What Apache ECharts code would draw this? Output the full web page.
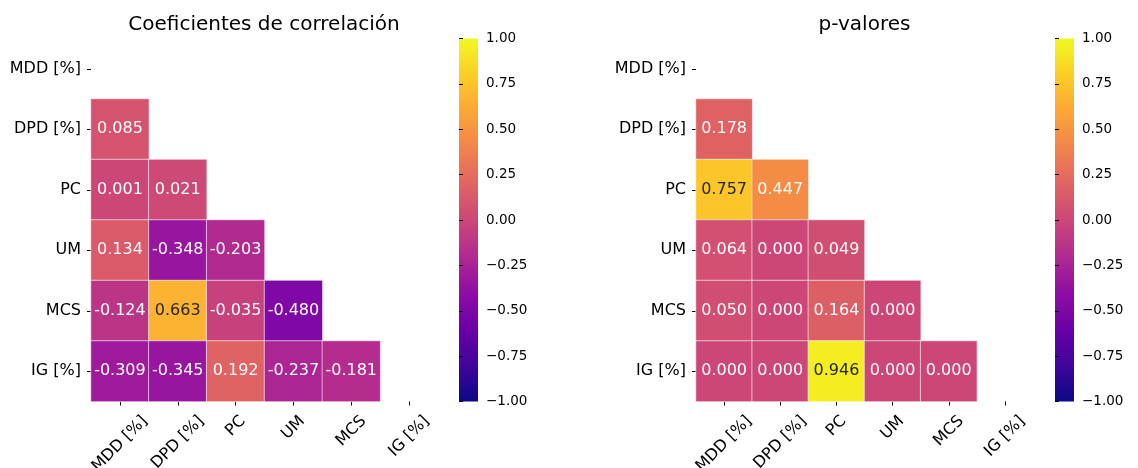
<!DOCTYPE html>
<html>
<head>
<meta charset="utf-8">
<script src="https://cdn.jsdelivr.net/npm/echarts@6/dist/echarts.min.js"></script>
<style>
  html, body { margin: 0; padding: 0; background: #fff; }
  #chart { width: 1138px; height: 468px; }
</style>
</head>
<body>
<div id="chart"></div>
<script>
// Variables shown on both axes
const categories = ['MDD [%]', 'DPD [%]', 'PC', 'UM', 'MCS', 'IG [%]'];

// Lower triangle of the correlation matrix (row i holds columns 0..i-1)
const corrRows = [
  [],
  [0.085],
  [0.001, 0.021],
  [0.134, -0.348, -0.203],
  [-0.124, 0.663, -0.035, -0.480],
  [-0.309, -0.345, 0.192, -0.237, -0.181]
];

// Lower triangle of the p-value matrix
const pRows = [
  [],
  [0.178],
  [0.757, 0.447],
  [0.064, 0.000, 0.049],
  [0.050, 0.000, 0.164, 0.000],
  [0.000, 0.000, 0.946, 0.000, 0.000]
];

const titles = ['Coeficientes de correlación', 'p-valores'];
const colorbarTicks = [-1, -0.75, -0.5, -0.25, 0, 0.25, 0.5, 0.75, 1];

// plasma colormap stops
const plasma = ['#0d0887', '#41049d', '#6a00a8', '#8f0da4', '#b12a90', '#cc4778',
                '#e16462', '#f2844b', '#fca636', '#fcce25', '#f0f921'];
const vMin = -1, vMax = 1;

function hexToRgb(h) {
  return [parseInt(h.slice(1, 3), 16), parseInt(h.slice(3, 5), 16), parseInt(h.slice(5, 7), 16)];
}
function plasmaAt(t) {
  t = Math.max(0, Math.min(1, t));
  const p = t * (plasma.length - 1);
  const i = Math.min(Math.floor(p), plasma.length - 2);
  const f = p - i;
  const a = hexToRgb(plasma[i]), b = hexToRgb(plasma[i + 1]);
  return a.map((c, k) => c + (b[k] - c) * f);
}
// Pick dark or white annotation text depending on cell luminance
function textColor(v) {
  const rgb = plasmaAt((v - vMin) / (vMax - vMin)).map(c => {
    c /= 255;
    return c <= 0.03928 ? c / 12.92 : Math.pow((c + 0.055) / 1.055, 2.4);
  });
  const lum = 0.2126 * rgb[0] + 0.7152 * rgb[1] + 0.0722 * rgb[2];
  return lum > 0.408 ? '#262626' : '#ffffff';
}

function toCells(rows) {
  const out = [];
  rows.forEach((row, y) => row.forEach((v, x) => {
    out.push({ value: [x, y, v], label: { color: textColor(v) } });
  }));
  return out;
}

const FONT = 'DejaVu Sans';
const AXIS_FS = 16;

// Rotated x labels are centred under their tick: each label's box is padded so that
// the text centre drops by half of its rotated height.
const measureCtx = document.createElement('canvas').getContext('2d');
measureCtx.font = AXIS_FS + 'px "' + FONT + '"';
const xRich = {};
categories.forEach((c, k) => {
  const w = measureCtx.measureText(c).width;
  const p = (w + AXIS_FS * 0.75) / 2;
  xRich['c' + k] = { fontFamily: FONT, fontSize: AXIS_FS, color: '#000', padding: [p, p, 0, 0] };
});

const TOP = 38.5, HEIGHT = 363;
const panels = [
  { left: 91, width: 347, cbLeft: 459, center: 264 },
  { left: 696, width: 337, cbLeft: 1055, center: 864.5 }
];
const CB_W = 19;

const grids = [], xAxes = [], yAxes = [], series = [], visualMaps = [], titleOpts = [], graphics = [];

panels.forEach((p, i) => {
  // heatmap grid
  grids.push({ left: p.left, top: TOP, width: p.width, height: HEIGHT, containLabel: false, outerBoundsMode: 'none' });
  xAxes.push({
    type: 'category', gridIndex: 2 * i, data: categories,
    axisLine: { show: false },
    axisTick: { show: true, alignWithLabel: true, length: 4, lineStyle: { color: '#000', width: 1 } },
    axisLabel: {
      rotate: 45, align: 'center', verticalAlign: 'middle', margin: 13, interval: 0,
      formatter: (v, idx) => '{c' + idx + '|' + v + '}',
      rich: xRich
    },
    splitLine: { show: false }
  });
  yAxes.push({
    type: 'category', gridIndex: 2 * i, data: categories, inverse: true,
    axisLine: { show: false },
    axisTick: { show: true, alignWithLabel: true, length: 4, lineStyle: { color: '#000', width: 1 } },
    axisLabel: { fontFamily: FONT, fontSize: AXIS_FS, color: '#000', margin: 10, interval: 0 },
    splitLine: { show: false }
  });
  series.push({
    type: 'heatmap', xAxisIndex: 2 * i, yAxisIndex: 2 * i,
    data: toCells(i === 0 ? corrRows : pRows),
    itemStyle: { borderColor: 'rgba(255,255,255,0.85)', borderWidth: 0.7 },
    label: {
      show: true, fontFamily: FONT, fontSize: 16,
      formatter: d => d.value[2].toFixed(3)
    },
    emphasis: { disabled: true }
  });
  visualMaps.push({
    type: 'continuous', show: false, seriesIndex: i, dimension: 2,
    min: vMin, max: vMax, inRange: { color: plasma }
  });

  // colorbar axis grid
  grids.push({ left: p.cbLeft, top: TOP, width: CB_W, height: HEIGHT, containLabel: false, outerBoundsMode: 'none' });
  xAxes.push({ type: 'value', gridIndex: 2 * i + 1, show: false, min: 0, max: 1 });
  yAxes.push({
    type: 'value', gridIndex: 2 * i + 1, position: 'right',
    min: colorbarTicks[0], max: colorbarTicks[colorbarTicks.length - 1],
    interval: colorbarTicks[1] - colorbarTicks[0],
    axisLine: { show: false },
    axisTick: { show: true, length: 4, lineStyle: { color: '#000', width: 1 } },
    axisLabel: {
      fontFamily: FONT, fontSize: 13.5, color: '#000', margin: 8,
      formatter: v => (v < 0 ? '\u2212' : '') + Math.abs(v).toFixed(2)
    },
    splitLine: { show: false }
  });

  // colorbar gradient
  graphics.push({
    type: 'rect', z: 0,
    shape: { x: p.cbLeft, y: TOP, width: CB_W, height: HEIGHT },
    style: {
      fill: new echarts.graphic.LinearGradient(0, 1, 0, 0,
        plasma.map((c, k) => ({ offset: k / (plasma.length - 1), color: c })))
    }
  });

  titleOpts.push({
    text: titles[i], left: p.center, top: 15, textAlign: 'center', padding: 0,
    textStyle: { fontFamily: FONT, fontSize: 20, fontWeight: 'normal', color: '#000' }
  });
});

const chart = echarts.init(document.getElementById('chart'), null, { renderer: 'canvas' });
chart.setOption({
  backgroundColor: '#ffffff',
  animation: false,
  title: titleOpts,
  grid: grids,
  xAxis: xAxes,
  yAxis: yAxes,
  visualMap: visualMaps,
  series: series,
  graphic: graphics
});
</script>
</body>
</html>
